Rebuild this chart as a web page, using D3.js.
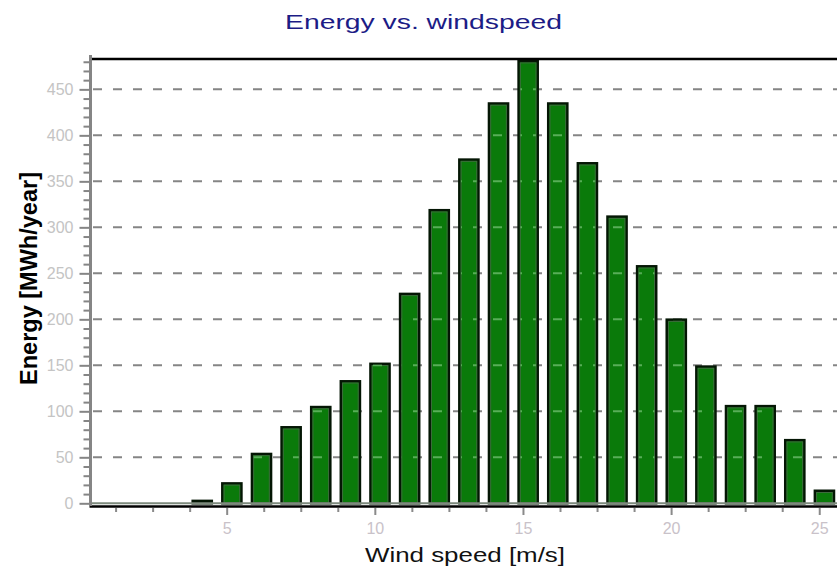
<!DOCTYPE html>
<html>
<head>
<meta charset="utf-8">
<script src="https://cdn.jsdelivr.net/npm/d3@7/dist/d3.min.js"></script>
<style>
  html, body { margin: 0; padding: 0; background: #ffffff; }
  svg { display: block; }
</style>
</head>
<body>
<svg id="chart" width="837" height="573"></svg>
<script>
// Wind speed bins [m/s] and annual energy per bin [MWh/year]
const windSpeeds = [1, 2, 3, 4, 5, 6, 7, 8, 9, 10, 11, 12, 13, 14, 15, 16, 17, 18, 19, 20, 21, 22, 23, 24, 25];
const energy     = [0, 0, 0, 4, 23, 55, 84, 106, 134, 153, 229, 320, 375, 436, 482, 436, 371, 313, 259, 201, 150, 107, 107, 70, 15];

const xMajorTicks = [5, 10, 15, 20, 25];
const yMajorTicks = [0, 50, 100, 150, 200, 250, 300, 350, 400, 450];
const gridValues  = [50, 100, 150, 200, 250, 300, 350, 400, 450];

const titleText = "Energy vs. windspeed";
const xLabel = "Wind speed [m/s]";
const yLabel = "Energy [MWh/year]";

const svg = d3.select("#chart");

const x = d3.scaleLinear().domain([0.4, 27]).range([90.4, 878.5]);
const y = d3.scaleLinear().domain([0, 483]).range([503.3, 59]);

const plotLeft = 90.5, plotRight = 837;
const data = windSpeeds.map((s, i) => ({ s, v: energy[i] }));

// Bar geometry (outer edges in data units)
const barLeft = d => x(d.s - 0.19);
const barRight = d => x(d.s + 0.54);

// Dashed horizontal grid
const dash = "9,11";
svg.append("g")
  .selectAll("line")
  .data(gridValues)
  .join("line")
  .attr("x1", 93).attr("x2", plotRight)
  .attr("y1", d => y(d)).attr("y2", d => y(d))
  .attr("stroke", "#858585")
  .attr("stroke-width", 2)
  .attr("stroke-dasharray", dash);

// Bars
const bars = svg.append("g");
bars.selectAll("rect.bar")
  .data(data.filter(d => d.v > 0))
  .join("rect")
  .attr("class", "bar")
  .attr("x", d => barLeft(d) + 1.25)
  .attr("y", d => y(d.v) + 1.25)
  .attr("width", d => barRight(d) - barLeft(d) - 2.5)
  .attr("height", d => Math.max(0, y(0) - y(d.v) - 1.25))
  .attr("fill", "#0a7a0a")
  .attr("stroke", "#041604")
  .attr("stroke-width", 2.5);

// Soft inner edge on each bar
bars.selectAll("rect.inner")
  .data(data.filter(d => d.v > 8))
  .join("rect")
  .attr("class", "inner")
  .attr("x", d => barLeft(d) + 3)
  .attr("y", d => y(d.v) + 3)
  .attr("width", d => barRight(d) - barLeft(d) - 6)
  .attr("height", d => Math.max(0, y(0) - y(d.v) - 3.5))
  .attr("fill", "none")
  .attr("stroke", "#3d6b3d")
  .attr("stroke-width", 1);

// Grid dashes seen through the bars
const clip = svg.append("defs").append("clipPath").attr("id", "barClip");
clip.selectAll("rect")
  .data(data.filter(d => d.v > 0))
  .join("rect")
  .attr("x", d => barLeft(d) + 3)
  .attr("y", d => y(d.v) + 2)
  .attr("width", d => barRight(d) - barLeft(d) - 6)
  .attr("height", d => Math.max(0, y(0) - y(d.v) - 2));

svg.append("g")
  .attr("clip-path", "url(#barClip)")
  .selectAll("line")
  .data(gridValues)
  .join("line")
  .attr("x1", 93).attr("x2", plotRight)
  .attr("y1", d => y(d)).attr("y2", d => y(d))
  .attr("stroke", "#58ae58")
  .attr("stroke-width", 2)
  .attr("stroke-dasharray", dash);

// Top frame
svg.append("line")
  .attr("x1", plotLeft).attr("x2", plotRight)
  .attr("y1", y(483)).attr("y2", y(483))
  .attr("stroke", "#000").attr("stroke-width", 2.5);

// Zero line
svg.append("line")
  .attr("x1", plotLeft).attr("x2", plotRight)
  .attr("y1", y(0)).attr("y2", y(0))
  .attr("stroke", "#7d8a7d").attr("stroke-width", 2);

// X axis (black baseline with gray ticks)
const xMinor = d3.range(1.25, 27, 1.25).filter(v => !xMajorTicks.includes(v));
const xAxisY = 507;
const xAxis = svg.append("g").attr("transform", `translate(0,${xAxisY})`);
xAxis.call(d3.axisBottom(x).tickValues(xMinor).tickSize(5).tickFormat(""))
  .call(g => g.select(".domain").remove())
  .call(g => g.selectAll(".tick line").attr("stroke", "#8a8a8a").attr("stroke-width", 2).attr("y1", 1));
const xAxisMajor = svg.append("g").attr("transform", `translate(0,${xAxisY})`);
xAxisMajor.call(d3.axisBottom(x).tickValues(xMajorTicks).tickSize(8).tickPadding(8).tickFormat(d3.format("d")))
  .call(g => g.select(".domain").remove())
  .call(g => g.selectAll(".tick line").attr("stroke", "#8a8a8a").attr("stroke-width", 2).attr("y1", 1))
  .call(g => g.selectAll(".tick text")
    .attr("fill", "#c9c2c9")
    .attr("font-family", "Liberation Sans, Arial, sans-serif")
    .attr("font-size", 16));
svg.append("line")
  .attr("x1", plotLeft - 1).attr("x2", plotRight)
  .attr("y1", xAxisY - 0.5).attr("y2", xAxisY - 0.5)
  .attr("stroke", "#000").attr("stroke-width", 2.5);

// Y axis (gray line with major and minor ticks)
const yMinor = d3.range(10, 483, 10).filter(v => v % 50 !== 0);
svg.append("g").attr("transform", `translate(${plotLeft},0)`)
  .call(d3.axisLeft(y).tickValues(yMinor).tickSize(7).tickFormat(""))
  .call(g => g.select(".domain").remove())
  .call(g => g.selectAll(".tick line").attr("stroke", "#858585").attr("stroke-width", 2));
svg.append("g").attr("transform", `translate(${plotLeft},0)`)
  .call(d3.axisLeft(y).tickValues(yMajorTicks).tickSize(11).tickPadding(6).tickFormat(d3.format("d")))
  .call(g => g.select(".domain").remove())
  .call(g => g.selectAll(".tick line").attr("stroke", "#858585").attr("stroke-width", 2))
  .call(g => g.selectAll(".tick text")
    .attr("fill", "#c4c4c4")
    .attr("font-family", "Liberation Sans, Arial, sans-serif")
    .attr("font-size", 16));
svg.append("line")
  .attr("x1", plotLeft).attr("x2", plotLeft)
  .attr("y1", 55).attr("y2", 506)
  .attr("stroke", "#858585").attr("stroke-width", 3);

// Title
svg.append("text")
  .attr("x", 285).attr("y", 29)
  .attr("textLength", 277).attr("lengthAdjust", "spacingAndGlyphs")
  .attr("font-family", "Liberation Sans, Arial, sans-serif")
  .attr("font-size", 21)
  .attr("fill", "#1c1c86")
  .text(titleText);

// Axis titles
svg.append("text")
  .attr("x", 365).attr("y", 562)
  .attr("textLength", 200).attr("lengthAdjust", "spacingAndGlyphs")
  .attr("font-family", "Liberation Sans, Arial, sans-serif")
  .attr("font-size", 20)
  .attr("fill", "#111")
  .text(xLabel);

svg.append("text")
  .attr("transform", "translate(37,385) rotate(-90)")
  .attr("x", 0).attr("y", 0)
  .attr("textLength", 213).attr("lengthAdjust", "spacingAndGlyphs")
  .attr("font-family", "Liberation Sans, Arial, sans-serif")
  .attr("font-size", 23)
  .attr("font-weight", "bold")
  .attr("fill", "#000")
  .text(yLabel);
</script>
</body>
</html>
